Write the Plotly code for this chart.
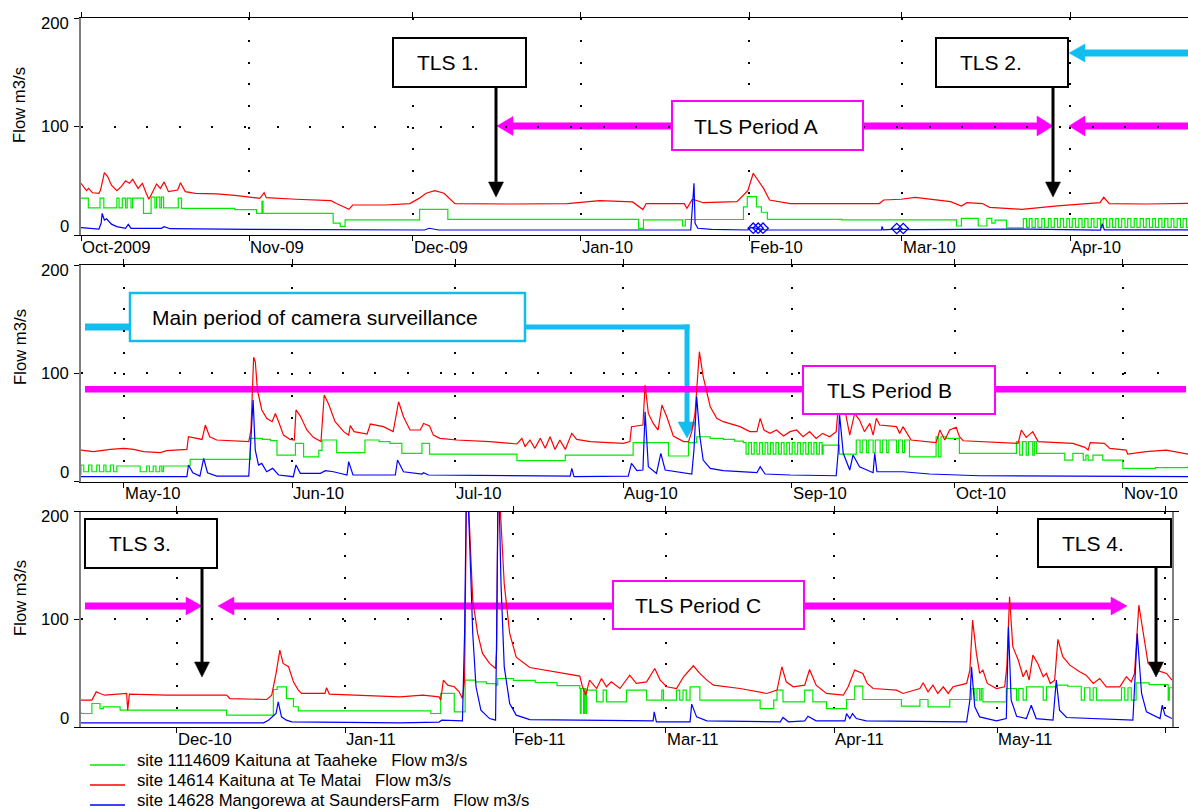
import pandas as pd
import plotly.graph_objects as go

W, H = 1188, 809
DAY0 = pd.Timestamp("2009-10-01")   # day numbers in the series count from this date
FONT = "Arial, 'Liberation Sans', sans-serif"

# ---- flow records: (day number, flow m3/s) ----
TAAHEKE = [
    (0, 34), (1.35, 25), (3.5, 34), (4.2, 25), (6.6, 34), (7.0, 25), (7.6, 34), (8.2, 25),
    (8.5, 34), (9.2, 25), (9.5, 34), (11.5, 20), (12.9, 35), (13.6, 25), (13.9, 35), (14.5, 25),
    (14.8, 35), (15.2, 25), (17.9, 34), (18.5, 24.6), (28.3, 23.5), (32.3, 20), (33.3, 31),
    (33.5, 20), (46.4, 11), (47.7, 8), (48.6, 14), (62.3, 23.7), (67.5, 14.5), (102.6, 6.2),
    (103.5, 14), (110.7, 8.3), (111.2, 14.3), (121.9, 26), (122.6, 35.5), (124.3, 26),
    (125.2, 21), (126.3, 14.5), (140, 14), (161.1, 8.3), (162.0, 15.4), (165.1, 8.3),
    (166.7, 15.4), (167.6, 11), (168.2, 13.8), (170.3, 6.5), (173.4, 15.2),
    (174.0, 7), (174.5, 15.2), (175.0, 7), (175.6, 15.2), (176.1, 7), (176.8, 15.2), (177.3, 7),
    (178.0, 15.2), (178.5, 7), (179.1, 15.2), (179.7, 7), (180.2, 15.2), (180.8, 7), (181.4, 15.2),
    (181.9, 7), (182.4, 15.2), (183.0, 7), (183.6, 15.2), (184.2, 7), (184.7, 15.2), (185.3, 7),
    (185.9, 15.2), (186.4, 7), (187.0, 15.2), (187.6, 7), (188.1, 15.2), (188.7, 7), (189.3, 15.2),
    (189.8, 7), (190.4, 15.2), (190.9, 7), (191.5, 15.2), (192.1, 7), (192.6, 15.2), (193.2, 7),
    (193.8, 15.2), (194.3, 7), (194.9, 15.2), (195.5, 7), (196.0, 15.2), (196.6, 7), (197.2, 15.2),
    (197.7, 7), (198.3, 15.2), (198.9, 7), (199.4, 15.2), (200.0, 7), (200.6, 15.2), (201.1, 7),
    (201.7, 15.2), (202.3, 7), (202.8, 15.2), (203.4, 7),
    (204.1, 15.4), (204.6, 9.2), (205.5, 15.4), (206.1, 9.2), (207, 15.4), (207.5, 9.2),
    (208.3, 15.4), (208.7, 9.2), (209.5, 15.4), (210.1, 9.2), (210.7, 14.5), (215, 9.2),
    (216.2, 14.5), (216.7, 9.2), (217.4, 14.5), (217.9, 9.2), (218.6, 14.5), (219.0, 9.2),
    (219.3, 14.5), (224.2, 20.6), (235.3, 40), (237.5, 39), (239, 38), (240.2, 24.6),
    (243.6, 35.4), (245.1, 23), (247.9, 29), (248.5, 38.5), (251.2, 26.8), (256.4, 38.5),
    (259, 37), (261, 35.4), (263.2, 26.2), (266.9, 35.4), (268.3, 25.5), (284.4, 19.4),
    (293.3, 24.6), (305.8, 36), (312.3, 23.7), (316, 36), (317.5, 41.5), (320, 40), (322.4, 39),
    (324.5, 37.5), (326.1, 36), (326.6, 25.5), (327.1, 36), (327.6, 25.5), (328.1, 36),
    (328.6, 25.5), (329.1, 36), (329.6, 25.5), (330.1, 36), (330.6, 25.5), (331.1, 36),
    (331.6, 25.5), (332.1, 36), (332.6, 25.5), (333.1, 36), (333.6, 25.5), (334.1, 36),
    (334.6, 25.5), (335.1, 36), (335.6, 25.5), (336.1, 36), (336.6, 25.5), (337.1, 36),
    (337.6, 25.5), (338.1, 36), (338.6, 25.5), (339.1, 36), (339.6, 25.5), (340.1, 36),
    (340.6, 25.5), (340.8, 33.8), (343.8, 25.5), (346.9, 38.5), (347.6, 26.8), (348.0, 38.5),
    (348.8, 26.8), (349.2, 38.5), (350.0, 26.8), (350.4, 38.5), (351.3, 26.8), (351.7, 38.5),
    (352.5, 26.8), (352.9, 38.5), (354.3, 26.8), (354.7, 38.5), (355.4, 26.8), (355.8, 38.5),
    (356.7, 23), (361.6, 41.5), (362.0, 23), (362.5, 41.5), (363.5, 40), (365.9, 26.2),
    (376.4, 37), (377.0, 24.6), (377.5, 37), (378.2, 24.6), (378.6, 37), (379.4, 24.6),
    (379.7, 37), (380.1, 26.2), (385.3, 20), (386.8, 26.2), (388.7, 20), (389.2, 24.6),
    (389.6, 20), (390.5, 24.6), (392.3, 20), (396, 12.3), (402, 13), (408, 13.8),
    (408.4, 12.7), (410.4, 22), (411.9, 17.3), (412.5, 18.9), (415.6, 15.8), (435.2, 11.2),
    (443.8, 35), (444.5, 37.5), (446.2, 26.6), (447.5, 19), (448.4, 15.2), (472.8, 12.7),
    (474.6, 31.3), (477.1, 14.2), (479.1, 43.7), (481, 42), (483, 40.5), (484.8, 39),
    (485.1, 45.2), (488, 43.5), (492, 41.5), (496, 38.5), (500.2, 35.9), (500.3, 12.7),
    (500.45, 35.9), (500.9, 12.7), (501.05, 35.9), (501.3, 12.7), (501.45, 34.4), (503.3, 23.5),
    (504.5, 34.4), (505.1, 23.5), (508.8, 34.4), (512.5, 25.1), (515.3, 34.4), (515.6, 25.1),
    (518, 34.4), (518.6, 25.1), (519.2, 34.4), (519.8, 25.1), (520.5, 37.5), (522.3, 25.1),
    (533.4, 17.3), (535.9, 25.1), (536.5, 34.4), (537.6, 23.5), (541.6, 34.4), (543.1, 23.5),
    (545.6, 17.3), (549.3, 25.7), (550.8, 38.1), (552.3, 25.7), (559.4, 19.5), (562.8, 25.7),
    (564.3, 18.9), (568.3, 25.7), (572.3, 35.9), (572.9, 25.1), (573.3, 35.9), (573.8, 25.1),
    (574.1, 35.9), (574.4, 23.5), (578.7, 35.9), (580.6, 25.1), (581, 35.9), (581.8, 25.1),
    (582.4, 37.5), (585.5, 25.1), (586.1, 37.5), (587.9, 39), (590, 38), (592.5, 25.1),
    (593.1, 36.6), (594.1, 25.1), (594.7, 36.6), (595.3, 25.1), (599.9, 36.6), (600.5, 25.1),
    (601.1, 36.6), (601.7, 25.1), (602.6, 41.2), (605, 39.5), (608.5, 25.1), (608.7, 36.6),
    (609.2, 36.6),
]

TE_MATAI = [
    (0, 47.7), (1.0, 41), (1.4, 43), (2.1, 39), (3.3, 38.5), (3.6, 41.5), (4.3, 57.5), (4.9, 54),
    (5.6, 46), (6.6, 41), (7.4, 44.6), (8.2, 50), (8.9, 47.7), (9.5, 51.4), (10.5, 43),
    (11.3, 47.7), (12.0, 38.5), (12.5, 33), (13.2, 40), (13.9, 47), (14.6, 43), (15.3, 49),
    (16.1, 40), (17.0, 41), (17.8, 41.5), (18.3, 48.3), (19.2, 40), (21.0, 38.5), (25.0, 38),
    (28.3, 36.6), (30.9, 35.4), (32.9, 33.8), (33.7, 39), (34.1, 34.5), (39.5, 33), (46.0, 31.7),
    (47.0, 29), (48.4, 26), (49.3, 23.7), (50.0, 27.7), (56.0, 27.7), (60.5, 29), (62.2, 33.8),
    (63.5, 38.5), (65.1, 41), (66.8, 38.5), (68.1, 31.7), (68.8, 29), (79, 28.6), (89.5, 29),
    (95.4, 31.7), (101.5, 30.5), (103.4, 23.5), (104, 29), (111.0, 29), (111.5, 24.6),
    (112.5, 33), (113.2, 31.7), (114.5, 29.8), (120.7, 30.8), (121.9, 37), (122.7, 41),
    (123.7, 57), (124.6, 50.8), (125.6, 43), (126.7, 32.3), (130.5, 29), (146.9, 29),
    (147.7, 32.3), (150.9, 33), (153.5, 34.8), (160, 30.8), (162, 26.8), (163, 29.8),
    (165.9, 29), (167.2, 25.5), (173.1, 23.7), (179.7, 26.8), (187.5, 29.8), (188.2, 34.8),
    (189.2, 29), (196, 28.6), (203.8, 29),
    (204.1, 29.2), (206.4, 27.7), (209.5, 29.8), (212, 30.8), (213.8, 29.8), (215.6, 27.7),
    (218.7, 26.8), (219.9, 28.6), (223.6, 29.8), (223.9, 41.5), (226.4, 39), (227.0, 52.3),
    (227.8, 41.5), (229.1, 38.5), (235.0, 37), (235.4, 47.7), (235.9, 114.8), (236.2, 110.8),
    (236.6, 84.6), (237.4, 66.2), (238.3, 58.5), (239.3, 55.4), (239.9, 63), (240.5, 55.4),
    (241.4, 43), (242.6, 39), (243.4, 38.5), (243.7, 66.2), (244.5, 60.6), (245.7, 47.7),
    (246.9, 40.9), (248.3, 37), (248.9, 80), (249.7, 71.7), (250.9, 55.4), (252.5, 46.2),
    (253.4, 43), (253.7, 51.7), (254.4, 46.2), (256.8, 44), (257.4, 53.2), (259.8, 50.8),
    (261.6, 46.2), (262.6, 73.8), (263.5, 60), (264.7, 47.7), (266.6, 47.7), (267.2, 53.8),
    (268.3, 51.4), (269.0, 43), (270.2, 40), (273.3, 38.5), (279.4, 37), (284.4, 34.8),
    (285.3, 40), (285.9, 32.3), (286.8, 38.5), (287.7, 30.8), (288.7, 40), (289.6, 30.8),
    (290.5, 41.5), (291.4, 29.8), (292.3, 38.5), (293.3, 29.8), (294.5, 44.6), (295.4, 39),
    (297.9, 37), (304, 35.4), (305.2, 37), (305.5, 50.8), (307.6, 52.3), (308, 89.2),
    (308.6, 63), (309.5, 53.8), (310.4, 47.7), (311.1, 70.8), (312, 60), (313.2, 42.2),
    (315.1, 37), (316, 37), (316.6, 46.2), (317.2, 63), (318, 120), (318.7, 97), (320, 69.2),
    (321.2, 58.5), (322.4, 55.4), (325.5, 50.8), (327.3, 46.2), (328.6, 46.2), (329.2, 58.5),
    (329.9, 47.7), (331, 44.6), (332.2, 47.7), (333.5, 42.2), (334.7, 46.2), (335.9, 47.7),
    (337.1, 41.5), (338.3, 46.2), (339.5, 40), (340.7, 44.6), (342, 41.5), (343.2, 46.2),
    (343.8, 81.5), (344.8, 66.2), (345.7, 43), (346.6, 63), (347.5, 56.9), (348.4, 46.2),
    (349.4, 53.8), (350, 43), (350.6, 58.5), (351.2, 52.3), (354.3, 50.8), (354.9, 44.6),
    (355.5, 50.8), (356.2, 45.2), (357, 38.5), (361.6, 36), (362.3, 47.7), (363.2, 38.5),
    (364.1, 47.7), (365.3, 50.2), (365.9, 41.5), (366.6, 37.8), (375.8, 36), (376.7, 35.4),
    (377.3, 47.7), (378.2, 40.9), (379.4, 46.2), (380.4, 37), (386.8, 35.4), (389, 31.7),
    (389.6, 29.2), (390, 36), (392.6, 35.4), (393.6, 30.8), (396.6, 29.2), (396.9, 25.5),
    (400.3, 27.7), (404, 29.2), (408.0, 25.5),
    (408.4, 25.1), (410.4, 25.1), (411.2, 32.8), (411.9, 31.3), (412.8, 29.7), (416.8, 31.3),
    (417.0, 15.8), (417.3, 30.7), (424.2, 29.7), (435.2, 29.7), (435.8, 26.6), (442.6, 25.7),
    (443.5, 29.7), (444.3, 49.9), (445, 71.6), (445.6, 59.2), (446.6, 56.1), (447.5, 42.1),
    (448.4, 34.4), (449, 31.3), (453.3, 31.3), (453.6, 36.6), (454.1, 30.7), (467.1, 28.2),
    (471.3, 29.7), (474.3, 28.2), (474.6, 25.1), (475.1, 43.7), (475.9, 39), (477.1, 37.5),
    (478, 32.8), (478.6, 26.6), (479, 43.7), (479.4, 245), (479.9, 186), (480.5, 118),
    (481.4, 87), (482.3, 68.5), (483.6, 59.2), (484.7, 54.5), (484.9, 71.6), (485.2, 240),
    (485.7, 190), (486.3, 133), (487.3, 87), (488.5, 65), (491, 55.4), (495.9, 51.4),
    (500.2, 47.4), (500.7, 37.5), (501.3, 29.7), (502, 43.7), (503.3, 35.9), (504.2, 45.2),
    (505.1, 37.5), (506, 42.1), (507.6, 35.9), (509.4, 48.3), (510.6, 40.6), (512.5, 42.1),
    (514, 54.5), (515, 43.7), (516.2, 37.5), (518, 35.9), (519.3, 46.8), (521.1, 57),
    (522.3, 49.9), (523.6, 43.7), (524.8, 39), (529.7, 35.9), (534.6, 31.3), (536.5, 34.4),
    (537.4, 56.1), (538.2, 42.1), (539.5, 37.5), (541.6, 39), (542.5, 53.6), (543.7, 39),
    (545.6, 31.3), (548.7, 29.7), (549.6, 37.5), (550.8, 53), (552.3, 49.9), (553.1, 40.6),
    (554.2, 35.9), (558.5, 34.4), (559.7, 31.3), (562.8, 35.9), (563.4, 41.2), (564.3, 32.8),
    (565.2, 39), (566.1, 31.3), (567.1, 37.5), (568, 31.3), (568.9, 37.5), (571.4, 40.6),
    (572, 53), (572.5, 99.4), (573.2, 68.5), (573.8, 49.9), (574.4, 53), (575.2, 40.6),
    (576.9, 35.9), (578.4, 37.5), (578.8, 56.1), (579.3, 121.1), (579.9, 74.7), (580.9, 62.3),
    (581.8, 46.8), (582.4, 53), (582.9, 43.7), (583.6, 66.9), (584.5, 59.2), (585.5, 46.8),
    (586.1, 49.9), (586.8, 40.6), (587.6, 43.7), (588.2, 81.5), (589.1, 65.4), (590.4, 57.6),
    (592.2, 51.4), (593.4, 48.3), (594.7, 40.6), (595.9, 45.2), (597.1, 37.5), (599.6, 37.5),
    (600.8, 46.8), (601.7, 42.1), (602.3, 49.9), (603.1, 113.4), (603.9, 87), (604.8, 59.2),
    (606.3, 53), (608.2, 49.9), (609.2, 43.7),
]

MANGOREWA = [
    (0, 6.8), (3.3, 5.5), (3.7, 10.8), (3.9, 20), (4.3, 13.8), (4.7, 15), (5.6, 10), (6.6, 7.7),
    (8.2, 6.2), (8.7, 9.8), (9.2, 6.2), (14.8, 6.2), (15.3, 7.7), (16.4, 5.8), (31, 5.2),
    (46, 4.6), (63.2, 4.6), (64.1, 6.2), (65.8, 4.6), (112.2, 4.6), (112.8, 47.7), (113.0, 10.8),
    (113.5, 6.2), (116, 5.2), (122.7, 4.6), (123.3, 7), (126, 4.6), (147.3, 4.6), (147.4, 8),
    (147.6, 4.8), (150, 5.5), (153, 5), (174.4, 5.5), (187.6, 4.6), (187.9, 10.5), (188.3, 4.8),
    (204.1, 4.6), (223.6, 4.6), (223.9, 15.4), (224.7, 8.3), (226, 5.2), (226.7, 21.5),
    (227.4, 8.3), (229.1, 5.2), (235, 5.2), (235.4, 35.4), (235.8, 75.4), (236.2, 29.2),
    (236.8, 15.4), (237.4, 16.9), (238.3, 9.2), (239.4, 12.3), (240.5, 6.2), (243.2, 4.6),
    (243.7, 15.4), (244.5, 7.7), (248.2, 7.7), (249.1, 10.2), (250.6, 9.2), (253.1, 6.2),
    (253.4, 18.5), (254.2, 6.2), (262.0, 6.2), (262.4, 20), (263.5, 9.2), (266.9, 7.1),
    (267.2, 8.3), (268.1, 6.2), (294.2, 5.2), (294.5, 12.3), (294.9, 4.6), (304.9, 5.2),
    (305.5, 16.9), (306.5, 10.2), (307.6, 10.8), (308, 64.6), (308.6, 13.8), (310.1, 7.7),
    (310.9, 26.2), (311.7, 10.8), (316.6, 7.1), (317, 29.2), (317.5, 78.5), (318.1, 41.5),
    (318.7, 20), (320, 12.3), (322.4, 10.2), (328.6, 8.3), (329.2, 13.8), (330.1, 7.1),
    (334.7, 6.2), (343.2, 5.5), (343.6, 29.2), (343.8, 63.1), (344.5, 26.2), (345.7, 10.8),
    (346.3, 24.6), (347.5, 13.8), (350, 8.3), (350.3, 26.2), (350.7, 9.2), (355.5, 9.2),
    (360.4, 7.1), (369.6, 5.5), (407.7, 4.6),
    (408.4, 4), (442, 4), (442.9, 6.5), (444.3, 12.7), (444.7, 23.5), (445.3, 9.6), (446.2, 6.5),
    (447.2, 5), (467.1, 4), (474.3, 4.8), (474.8, 6.5), (478.6, 5.9), (479, 87), (479.4, 250),
    (479.9, 180), (480.5, 87), (481.1, 37.5), (482, 15.8), (483.6, 8), (484.7, 6.5),
    (484.9, 87), (485.2, 250), (485.7, 133.5), (486.3, 56), (487.3, 22), (488.5, 11.2),
    (491, 7.1), (513.7, 5.9), (513.9, 14.2), (514.3, 5), (520.5, 5), (520.8, 21.4), (521.7, 9.6),
    (523.6, 5.9), (537.1, 5), (537.6, 9), (538.6, 5), (541.6, 5.9), (542.2, 10.2), (543.7, 5.9),
    (549, 5.9), (549.3, 12.7), (549.9, 8), (550.4, 12.7), (551.1, 8), (552.9, 5.9), (571.4, 5),
    (572, 25), (572.3, 56), (572.9, 18.9), (573.8, 9.6), (576.9, 5.9), (578.7, 8), (579.1, 93),
    (579.6, 25), (580.6, 10.2), (582.4, 8), (583.3, 20.4), (584.2, 8), (587.3, 6.5),
    (587.9, 43.7), (588.5, 15.8), (589.8, 9), (602, 6.5), (602.5, 56), (602.8, 87),
    (603.6, 31.3), (604.5, 14.2), (607, 8), (607.4, 20.4), (607.9, 11.2), (609.2, 8),
]

# flagged Mangorewa readings (open diamonds)
MANGOREWA_FLAGS = [(123.7, 6.3), (124.6, 6.3), (125.5, 6.3), (150.1, 6.0), (151.3, 6.0)]

SITE_NAMES = [
    "site 1114609 Kaituna at Taaheke   Flow m3/s",
    "site 14614 Kaituna at Te Matai   Flow m3/s",
    "site 14628 Mangorewa at SaundersFarm   Flow m3/s",
]
SITE_COLORS = ["#00EA00", "#FF0000", "#0000FF"]

# each panel shows about seven months of the record
PANEL_SPANS = [(0.0, 203.7), (204.1, 408.0), (408.4, 609.2)]
MONTH_DAYS = [
    [0, 31, 61, 92, 123, 151, 182],
    [212, 243, 273, 304, 335, 365, 396],
    [426, 457, 488, 516, 547, 577, 608],
]
MONTH_LABELS = [
    ["Oct-2009", "Nov-09", "Dec-09", "Jan-10", "Feb-10", "Mar-10", "Apr-10"],
    ["May-10", "Jun-10", "Jul-10", "Aug-10", "Sep-10", "Oct-10", "Nov-10"],
    ["Dec-10", "Jan-11", "Feb-11", "Mar-11", "Apr-11", "May-11", ""],
]
FLOW_TICKS = [0, 100, 200]

# panel frames in page pixels: top (200), bottom (0), right edge
PANEL_TOP = [18.3, 265.0, 511.7]
PANEL_BOTTOM = [235.0, 481.7, 727.2]
PANEL_RIGHT = [1188, 1188, 1172]
PANEL_LEFT = 81


def px(x):
    return x / W


def py(y):
    return 1 - y / H


def to_dates(days):
    return DAY0 + pd.to_timedelta(pd.Series(days, dtype=float), unit="D")


fig = go.Figure()

series = [TAAHEKE, TE_MATAI, MANGOREWA]
shapes_of_line = ["hv", "linear", "linear"]
for p in range(3):
    xa = "x" if p == 0 else f"x{p + 1}"
    ya = "y" if p == 0 else f"y{p + 1}"
    for rec, name, col, shp in zip(series, SITE_NAMES, SITE_COLORS, shapes_of_line):
        days = [d for d, _ in rec]
        flow = [v for _, v in rec]
        fig.add_trace(go.Scatter(
            x=to_dates(days), y=flow, mode="lines", name=name, showlegend=False,
            line=dict(color=col, width=1.2, shape=shp), xaxis=xa, yaxis=ya,
            hoverinfo="skip"))
    fig.add_trace(go.Scatter(
        x=to_dates([d for d, _ in MANGOREWA_FLAGS]), y=[v for _, v in MANGOREWA_FLAGS],
        mode="markers", showlegend=False, xaxis=xa, yaxis=ya, hoverinfo="skip",
        marker=dict(symbol="diamond-open", size=8, color="#0000FF", line=dict(width=1.3))))

layout = dict(
    width=W, height=H, margin=dict(l=0, r=0, t=0, b=0),
    paper_bgcolor="white", plot_bgcolor="rgba(0,0,0,0)", showlegend=False,
    font=dict(family=FONT, size=17, color="black"),
)

annotations = []
for p in range(3):
    sx = "" if p == 0 else str(p + 1)
    lo, hi = PANEL_SPANS[p]
    rng = to_dates([lo, hi])
    layout[f"xaxis{sx}"] = dict(
        type="date", anchor=f"y{sx}", domain=[px(PANEL_LEFT), px(PANEL_RIGHT[p])],
        range=[rng.iloc[0], rng.iloc[1]], tickvals=list(to_dates(MONTH_DAYS[p])),
        showticklabels=False, ticks="outside", ticklen=5, tickcolor="black", tickwidth=1.2,
        showline=True, linecolor="black", linewidth=1.3, mirror="ticks",
        showgrid=True, gridcolor="black", gridwidth=1.6, griddash="2px,19.67px",
        zeroline=False, fixedrange=True)
    layout[f"yaxis{sx}"] = dict(
        anchor=f"x{sx}", domain=[py(PANEL_BOTTOM[p]), py(PANEL_TOP[p])], range=[0, 200],
        tickvals=FLOW_TICKS, showticklabels=False, ticks="outside", ticklen=5,
        tickcolor="black", tickwidth=1.2, showline=True, linecolor="#7f7f7f", linewidth=2,
        mirror="ticks" if p == 2 else False,
        showgrid=True, gridcolor="black", gridwidth=1.6, griddash="2px,30.6px",
        zeroline=False, fixedrange=True)

    # month labels start at their tick
    for d, lab in zip(MONTH_DAYS[p], MONTH_LABELS[p]):
        if lab:
            annotations.append(dict(
                xref=f"x{sx}", yref=f"y{sx}", x=to_dates([d]).iloc[0], y=0, text=lab,
                showarrow=False, xanchor="left", yanchor="middle", xshift=-1, yshift=-12,
                font=dict(size=16.7)))
    # flow tick labels
    for v, shift in zip(FLOW_TICKS, [9, 0, -5]):
        annotations.append(dict(
            xref="paper", yref=f"y{sx}", x=px(71), y=v, text=str(v), showarrow=False,
            xanchor="right", yanchor="middle", yshift=shift, font=dict(size=16.7)))

# axis titles
for yc in [105, 347, 598]:
    annotations.append(dict(xref="paper", yref="paper", x=px(20), y=py(yc), text="Flow m3/s",
                            textangle=-90, showarrow=False, xanchor="center",
                            yanchor="middle", font=dict(size=16.7)))

shapes = []
MAG = "#FF00FF"
CYAN = "#12BEF0"


def seg(x0, y0, x1, y1, color, width, layer="below"):
    shapes.append(dict(type="line", xref="paper", yref="paper", x0=px(x0), y0=py(y0),
                       x1=px(x1), y1=py(y1), line=dict(color=color, width=width), layer=layer))


def box(x0, y0, x1, y1, color, width):
    shapes.append(dict(type="rect", xref="paper", yref="paper", x0=px(x0), y0=py(y0),
                       x1=px(x1), y1=py(y1), line=dict(color=color, width=width),
                       fillcolor="white", layer="above"))


def head(tx, ty, direction, color, length, half, layer="below"):
    if direction == "down":
        pts = [(tx, ty), (tx - half, ty - length), (tx + half, ty - length)]
    elif direction == "left":
        pts = [(tx, ty), (tx + length, ty - half), (tx + length, ty + half)]
    else:
        pts = [(tx, ty), (tx - length, ty - half), (tx - length, ty + half)]
    path = "M " + " L ".join(f"{px(x):.5f},{py(y):.5f}" for x, y in pts) + " Z"
    shapes.append(dict(type="path", xref="paper", yref="paper", path=path, fillcolor=color,
                       line=dict(color=color, width=0.5), layer=layer))


def text(x, y, s, size=21):
    annotations.append(dict(xref="paper", yref="paper", x=px(x), y=py(y), text=s,
                            showarrow=False, xanchor="left", yanchor="middle",
                            font=dict(size=size)))


def tls_marker(x0, y0, x1, y1, label, arrow_x, tip_y):
    box(x0, y0, x1, y1, "black", 2)
    text(x0 + 22, (y0 + y1) / 2, label)
    seg(arrow_x, y1, arrow_x, tip_y - 14, "black", 3, "above")
    head(arrow_x, tip_y, "down", "black", 15, 7.5, "above")


# top panel: TLS 1, period A, TLS 2
tls_marker(393, 38, 526, 87, "TLS 1.", 496, 197)
head(497, 126, "left", MAG, 16, 9.5)
seg(510, 126, 672, 126, MAG, 7)
box(672, 101, 863, 150, MAG, 2)
text(692, 126, "TLS Period A")
seg(863, 126, 1040, 126, MAG, 7)
head(1053, 126, "right", MAG, 16, 10)
tls_marker(936, 38, 1068, 87, "TLS 2.", 1053, 197)
head(1069, 53, "left", CYAN, 16, 9)
seg(1083, 53, 1188, 53, CYAN, 7)
head(1069, 126, "left", MAG, 16, 10)
seg(1083, 126, 1188, 126, MAG, 7)

# middle panel: camera surveillance and period B
seg(85, 327, 130, 327, CYAN, 7)
box(130, 293, 525, 341, CYAN, 2.5)
text(150, 317, "Main period of camera surveillance")
seg(525, 327, 689.5, 327, CYAN, 5)
seg(687, 324.5, 687, 424, CYAN, 5)
head(687, 438, "down", CYAN, 16, 9)
seg(85, 389.3, 1186, 389.3, MAG, 6.5)
box(803, 366, 995, 414, MAG, 2)
text(825, 390, "TLS Period B")

# bottom panel: TLS 3, period C, TLS 4
tls_marker(85, 519, 217, 568, "TLS 3.", 202, 677)
seg(85, 606, 188, 606, MAG, 7)
head(202, 606, "right", MAG, 16, 9)
head(218, 606, "left", MAG, 16, 9)
seg(232, 606, 613, 606, MAG, 7)
box(613, 581, 804, 629, MAG, 2)
text(633, 605, "TLS Period C")
seg(804, 606, 1113, 606, MAG, 7)
head(1127, 606, "right", MAG, 16, 9)
tls_marker(1038, 519, 1171, 567, "TLS 4.", 1156, 677)

# legend below the panels
for i, (name, col) in enumerate(zip(SITE_NAMES, SITE_COLORS)):
    ly = 765 + 20 * i
    seg(90, ly, 125, ly, col, 1.5, "above")
    text(135, ly - 4.5, name.replace("   ", "\u00a0\u00a0\u00a0"), size=16.7)

layout["shapes"] = shapes
layout["annotations"] = annotations
fig.update_layout(**layout)
fig.write_html("out.html", config={"displayModeBar": False})
